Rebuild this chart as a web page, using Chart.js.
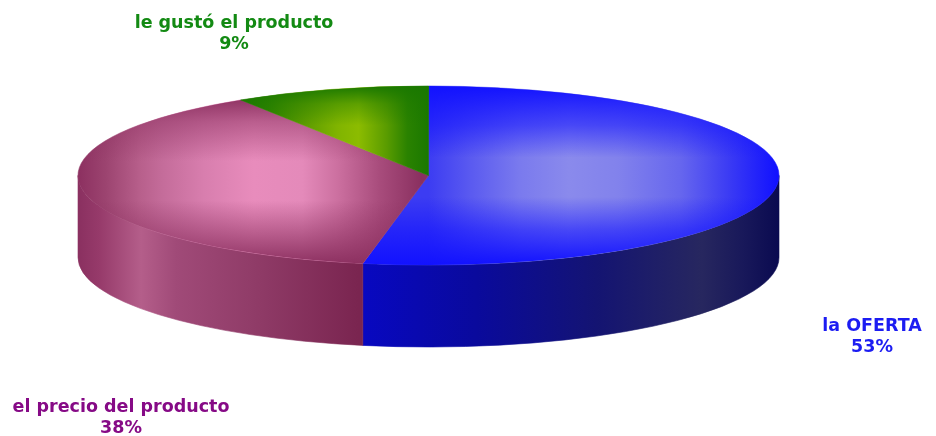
<!DOCTYPE html>
<html>
<head>
<meta charset="utf-8">
<script src="https://cdn.jsdelivr.net/npm/chart.js@4/dist/chart.umd.min.js"></script>
<style>
  html, body { margin: 0; padding: 0; background: #ffffff; }
  #wrap { width: 936px; height: 436px; position: relative; }
</style>
</head>
<body>
<div id="wrap"><canvas id="chart"></canvas></div>
<script>
// Survey answers and their shares (percent)
const categories = ['la OFERTA', 'el precio del producto', 'le gustó el producto'];
const percentages = [53, 38, 9];

// Styling per slice
const labelColors = ['#1c1cf2', '#860a86', '#138a13'];
const topEdge = ['#1212ff', '#8c3060', '#1a7800'];
// Top-face shading: horizontal bands (0 = left rim, 1 = right rim of the disc)
const topH = [
  [[0.50, '#3c3cf2'], [0.56, '#5a5af0'], [0.63, '#7a7aee'], [0.70, '#8a8aec'], [0.77, '#8282ec'], [0.86, '#6666ee'], [0.93, '#3a3af4'], [1.0, '#1010ff']],
  [[0.0, '#8c3060'], [0.04, '#9c4470'], [0.09, '#b8608c'], [0.12, '#c46c9a'], [0.18, '#d87eae'], [0.25, '#e88cbc'], [0.32, '#e48aba'], [0.37, '#cc70a0'], [0.43, '#a84c7c'], [0.49, '#8a3060']],
  [[0.23, '#1a7800'], [0.27, '#2e8400'], [0.32, '#5a9a00'], [0.37, '#80b400'], [0.40, '#8cbc00'], [0.44, '#5a9c00'], [0.47, '#2a8200'], [0.50, '#1a7800']]
];
// Top-face shading: vertical fade of the rim colour (0 = back rim, 1 = front rim)
const topV = [
  [[0.0, 1], [0.22, 0.55], [0.40, 0], [0.62, 0], [0.80, 0.55], [1.0, 1]],
  [[0.06, 1], [0.2, 0.5], [0.42, 0], [0.64, 0], [0.82, 0.5], [1.0, 1]],
  [[0.0, 1], [0.1, 0.4], [0.22, 0], [1.0, 0]]
];
// Side wall colour bands across the full width (0 = left rim, 1 = right rim)
const wallStops = [
  [[0.40, '#0808c2'], [0.57, '#0a0a9c'], [0.74, '#141472'], [0.89, '#27275f'], [0.95, '#18185a'], [1.0, '#0a0a50']],
  [[0.0, '#8a3060'], [0.03, '#963a6a'], [0.09, '#b45e8a'], [0.14, '#a04a78'], [0.25, '#903c68'], [0.40, '#7a2550']],
  [[0.0, '#0f5a00'], [1.0, '#0f5a00']]
];
// Label anchors (centre x, first baseline y)
const labelPos = [[872, 331], [121, 412], [234, 28]];

const DEPTH = 82;

function rgba(hex, a) {
  const n = parseInt(hex.slice(1), 16);
  return 'rgba(' + (n >> 16) + ',' + ((n >> 8) & 255) + ',' + (n & 255) + ',' + a + ')';
}

const pie3d = {
  id: 'pie3d',
  beforeDatasetsDraw(chart) {
    const ctx = chart.ctx;
    const ca = chart.chartArea;
    const meta = chart.getDatasetMeta(0);
    const rx = (ca.right - ca.left) / 2;
    const ry = (ca.bottom - ca.top - DEPTH) / 2;
    const cx = (ca.left + ca.right) / 2;
    const cy = ca.top + ry;

    // outer walls (front half only)
    meta.data.forEach((arc, i) => {
      const p = arc.getProps(['startAngle', 'endAngle'], true);
      const grad = ctx.createLinearGradient(cx - rx, 0, cx + rx, 0);
      wallStops[i].forEach(s => grad.addColorStop(s[0], s[1]));
      for (let k = -1; k <= 1; k++) {
        const lo = Math.max(p.startAngle, 2 * Math.PI * k);
        const hi = Math.min(p.endAngle, Math.PI + 2 * Math.PI * k);
        if (hi <= lo) continue;
        ctx.beginPath();
        ctx.ellipse(cx, cy, rx, ry, 0, lo, hi, false);
        ctx.lineTo(cx + rx * Math.cos(hi), cy + ry * Math.sin(hi) + DEPTH);
        ctx.ellipse(cx, cy + DEPTH, rx, ry, 0, hi, lo, true);
        ctx.closePath();
        ctx.fillStyle = grad;
        ctx.fill();
        ctx.strokeStyle = grad;
        ctx.lineWidth = 0.6;
        ctx.stroke();
      }
    });

    // top faces: the arc's own geometry squashed onto the ellipse
    meta.data.forEach((arc, i) => {
      const p = arc.getProps(['startAngle', 'endAngle', 'outerRadius'], true);
      const R = p.outerRadius;
      ctx.save();
      ctx.translate(cx, cy);
      ctx.scale(rx / R, ry / R);
      ctx.beginPath();
      ctx.moveTo(0, 0);
      ctx.arc(0, 0, R, p.startAngle, p.endAngle);
      ctx.closePath();
      ctx.restore();

      const gh = ctx.createLinearGradient(cx - rx, 0, cx + rx, 0);
      topH[i].forEach(s => gh.addColorStop(s[0], s[1]));
      ctx.fillStyle = gh;
      ctx.fill();
      ctx.strokeStyle = gh;
      ctx.lineWidth = 0.6;
      ctx.stroke();

      const gv = ctx.createLinearGradient(0, cy - ry, 0, cy + ry);
      topV[i].forEach(s => gv.addColorStop(s[0], rgba(topEdge[i], s[1])));
      ctx.fillStyle = gv;
      ctx.fill();
    });
    return false;
  },
  afterDraw(chart) {
    const ctx = chart.ctx;
    const labels = chart.data.labels;
    const values = chart.data.datasets[0].data;
    ctx.save();
    ctx.font = 'bold 17.5px "DejaVu Sans"';
    ctx.textAlign = 'center';
    ctx.textBaseline = 'alphabetic';
    labels.forEach((lab, i) => {
      ctx.fillStyle = labelColors[i];
      ctx.fillText(lab, labelPos[i][0], labelPos[i][1]);
      ctx.fillText(values[i] + '%', labelPos[i][0], labelPos[i][1] + 21);
    });
    ctx.restore();
  }
};

new Chart(document.getElementById('chart'), {
  type: 'pie',
  data: {
    labels: categories,
    datasets: [{ data: percentages, backgroundColor: topEdge, borderWidth: 0 }]
  },
  options: {
    responsive: true,
    maintainAspectRatio: false,
    animation: false,
    rotation: 0,
    layout: { padding: { left: 78, right: 157, top: 86, bottom: 89 } },
    plugins: { legend: { display: false }, tooltip: { enabled: false } }
  },
  plugins: [pie3d]
});
</script>
</body>
</html>
